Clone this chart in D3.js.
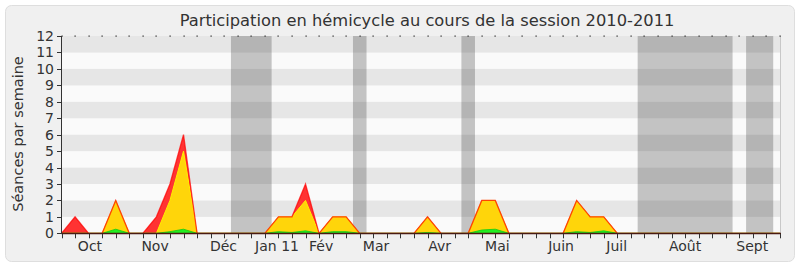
<!DOCTYPE html>
<html><head><meta charset="utf-8">
<script src="https://cdn.jsdelivr.net/npm/d3@7"></script>
<style>
body{margin:0;background:#fff;}
text{font-family:"DejaVu Sans",sans-serif;fill:#333;}
</style></head><body>
<svg id="c" width="800" height="267"></svg>
<script>
const title = "Participation en hémicycle au cours de la session 2010-2011";
const yLabel = "Séances par semaine";
const weeks = d3.range(54);
const total =  [0,1,0,0,2,0,0,1,3,6,0,0,0,0,0,0,1,1,3,0,1,1,0,0,0,0,0,1,0,0,0,2,2,0,0,0,0,0,2,1,1,0,0,0,0,0,0,0,0,0,0,0,0,0];
const yellow = [0,0,0,0,2,0,0,0,2,5,0,0,0,0,0,0,1,1,2,0,1,1,0,0,0,0,0,1,0,0,0,2,2,0,0,0,0,0,2,1,1,0,0,0,0,0,0,0,0,0,0,0,0,0];
const green =  [0,0,0,0,0.25,0,0,0,0.1,0.25,0,0,0,0,0,0,0.1,0.05,0.15,0,0.1,0.1,0,0,0,0,0,0.05,0,0,0,0.2,0.25,0,0,0,0,0,0.1,0.05,0.15,0,0,0,0,0,0,0,0,0,0,0,0,0];
const monthLabels = ["Oct","Nov","Déc","Jan 11","Fév","Mar","Avr","Mai","Juin","Juil","Août","Sept"];
const monthPos = [2.1,6.9,11.95,15.9,19.15,23.2,27.9,32.15,36.85,40.95,46.0,50.95];
const vacStart = [12.5,21.5,29.5,42.5,50.5];
const vacEnd   = [15.5,22.5,30.5,49.5,52.5];
const yTicks = d3.range(0,13);

const svg = d3.select("#c");
const x = d3.scaleLinear().domain([0,53]).range([61.5,780]);
const y = d3.scaleLinear().domain([0,12]).range([233.3,36]);

svg.append("rect").attr("x",5.5).attr("y",5.5).attr("width",789).attr("height",256).attr("rx",6)
  .attr("fill","#f0f0f0").attr("stroke","#dedede");

svg.append("text").attr("x",427).attr("y",26).attr("text-anchor","middle")
  .style("font-size","16.3px").text(title);

// stripes
svg.append("g").selectAll("rect").data(d3.range(12)).join("rect")
  .attr("x",x(0)).attr("width",x(53)-x(0))
  .attr("y",d=>y(d+1)).attr("height",d=>y(d)-y(d+1))
  .attr("fill",d=>d%2===0?"#fafafa":"#e6e6e6");

// vacations
svg.append("g").selectAll("rect").data(vacStart).join("rect")
  .attr("x",(d)=>x(d)).attr("width",(d,i)=>x(vacEnd[i])-x(d))
  .attr("y",y(12)).attr("height",y(0)-y(12))
  .attr("fill","rgb(40,40,40)").attr("fill-opacity",0.26);

// right border
svg.append("line").attr("x1",x(53)+0.5).attr("x2",x(53)+0.5).attr("y1",y(12)).attr("y2",y(0))
  .attr("stroke","#c8c8c8");

const area = arr => d3.area().x((d,i)=>x(i)).y0(y(0)).y1((d,i)=>y(arr[i]))(weeks);
const line = arr => d3.line().x((d,i)=>x(i)).y((d,i)=>y(arr[i]))(weeks);
svg.append("path").attr("d",area(total)).attr("fill","#ff3333");
svg.append("path").attr("d",area(yellow)).attr("fill","#ffd50a");
svg.append("path").attr("d",line(yellow)).attr("fill","none").attr("stroke","#ffee00").attr("stroke-width",1);
svg.append("path").attr("d",area(green)).attr("fill","#22ee22");
svg.append("path").attr("d",line(green)).attr("fill","none").attr("stroke","#11cc11").attr("stroke-width",0.8);
svg.append("path").attr("d",line(total)).attr("fill","none").attr("stroke","#ff0000").attr("stroke-opacity",0.7).attr("stroke-width",1.3);

// top dots
svg.append("g").selectAll("rect").data(weeks).join("rect")
  .attr("x",d=>Math.round(x(d))-0.5).attr("y",35.5).attr("width",1.2).attr("height",1.2).attr("fill","#222");

// x axis
const gx = svg.append("g");
gx.append("line").attr("x1",x(0)).attr("x2",x(53)+1).attr("y1",y(0)+0.2).attr("y2",y(0)+0.2).attr("stroke","#4a1a10").attr("stroke-width",1.3);
gx.selectAll("line.t").data(weeks).join("line").attr("class","t")
  .attr("x1",d=>Math.round(x(d))+0.5).attr("x2",d=>Math.round(x(d))+0.5)
  .attr("y1",y(0)+0.5).attr("y2",y(0)+5).attr("stroke","#333");
gx.selectAll("text").data(monthLabels).join("text")
  .attr("x",(d,i)=>x(monthPos[i])).attr("y",251).attr("text-anchor","middle")
  .style("font-size","14px").text(d=>d);

// y axis
const gy = svg.append("g");
gy.append("line").attr("x1",61.5).attr("x2",61.5).attr("y1",y(12)).attr("y2",y(0)+0.5).attr("stroke","#333");
gy.selectAll("line.t").data(yTicks).join("line").attr("class","t")
  .attr("x1",57).attr("x2",61.5).attr("y1",d=>Math.round(y(d))+0.5).attr("y2",d=>Math.round(y(d))+0.5).attr("stroke","#333");
gy.selectAll("text").data(yTicks).join("text")
  .attr("x",54).attr("y",d=>y(d)+5).attr("text-anchor","end")
  .style("font-size","14px").text(d=>d);

svg.append("text").attr("transform","translate(23,134) rotate(-90)").attr("text-anchor","middle")
  .style("font-size","14.5px").text(yLabel);
</script></body></html>
